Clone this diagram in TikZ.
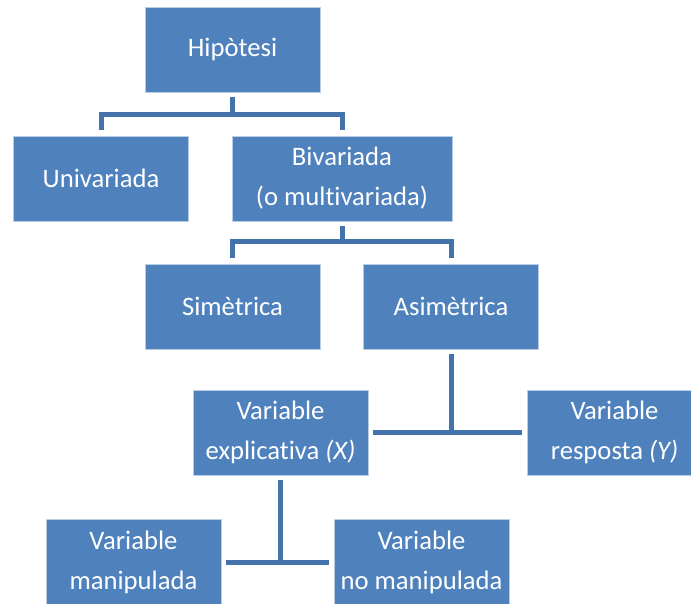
\documentclass[tikz,border=0pt]{standalone}
\usepackage{fontspec}
\setmainfont{Carlito}[Ligatures=NoCommon]
\usetikzlibrary{calc}
\definecolor{boxblue}{HTML}{4F81BD}
\definecolor{linkblue}{HTML}{4472AA}

\begin{document}
\begin{tikzpicture}[x=0.75pt,y=-0.75pt,
  box/.style={fill=boxblue,draw=white!60!boxblue,line width=0.5pt,text=white,
    font=\fontsize{20}{30}\selectfont,align=center,
    minimum width=131.25pt,minimum height=63.75pt,inner sep=0pt},
  link/.style={draw=linkblue,line width=3.75pt}]
\useasboundingbox (0,0) rectangle (691,603);

\node[box] (hipotesi) at (232.5,49.5){Hipòtesi};
\node[box] (univariada) at (101,178.5){Univariada};
\node[box,minimum width=165pt] (bivariada) at (342,178.5){Bivariada\\(o multivariada)};
\node[box] (simetrica) at (232.5,306.5){Simètrica};
\node[box] (asimetrica) at (451,306.5){Asimètrica};
\node[box] (explicativa) at (280.5,432.5){Variable\\explicativa \textit{(X)}};
\node[box] (resposta) at (614.5,432.5){Variable\\resposta \textit{(Y)}};
\node[box] (manipulada) at (133.5,562){Variable\\manipulada};
\node[box] (nomanip) at (421.5,562){Variable\\no manipulada};

% connectors
\coordinate (j1) at (232.5,114);
\coordinate (j2) at (342,241);
\coordinate (j3) at (asimetrica.south |- explicativa.east);
\coordinate (j4) at (explicativa.south |- manipulada.east);

\draw[link] ($(hipotesi.south)+(0,5)$) -- (j1);
\draw[link] ($(univariada.north)+(0,-6)$) |- (j1) -| ($(bivariada.north)+(0,-6)$);

\draw[link] ($(bivariada.south)+(0,5)$) -- (j2);
\draw[link] ($(simetrica.north)+(0,-6)$) |- (j2) -| ($(asimetrica.north)+(0,-6)$);

\draw[link] ($(asimetrica.south)+(0,5)$) -- (j3);
\draw[link] ($(explicativa.east)+(5,0)$) -- ($(resposta.west)+(-5,0)$);

\draw[link] ($(explicativa.south)+(0,5)$) -- (j4);
\draw[link] ($(manipulada.east)+(5,0)$) -- ($(nomanip.west)+(-5,0)$);
\end{tikzpicture}
\end{document}
